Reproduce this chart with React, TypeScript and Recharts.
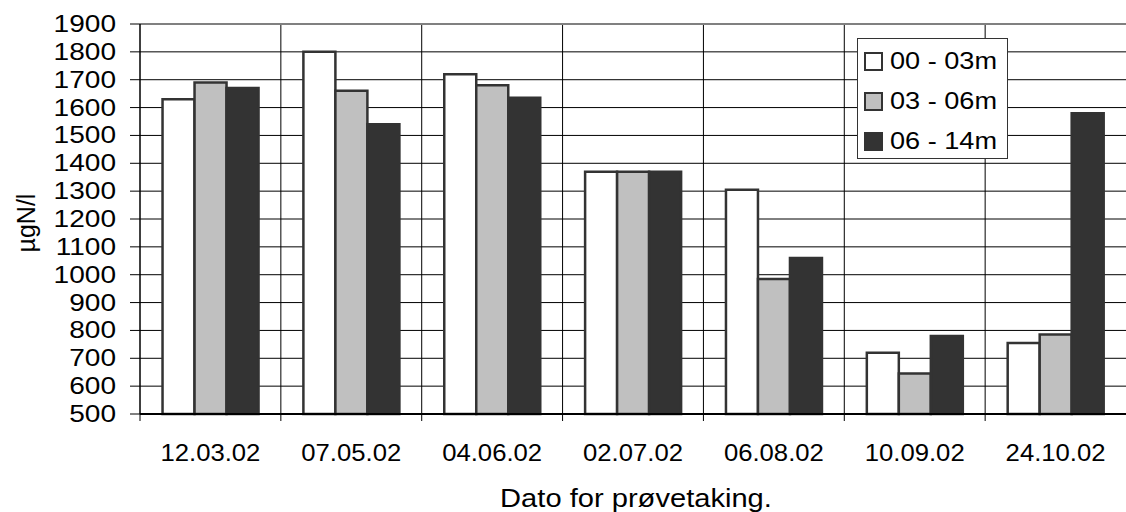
import React from "react";
import {
  BarChart,
  Bar,
  XAxis,
  YAxis,
  CartesianGrid,
  Legend,
  ReferenceLine,
} from "recharts";

const dates = [
  "12.03.02",
  "07.05.02",
  "04.06.02",
  "02.07.02",
  "06.08.02",
  "10.09.02",
  "24.10.02",
];
const depth0to3 = [1630, 1800, 1720, 1370, 1305, 720, 755];
const depth3to6 = [1690, 1660, 1680, 1370, 985, 645, 785];
const depth6to14 = [1670, 1540, 1635, 1370, 1060, 780, 1580];
const yTicks = [
  500, 600, 700, 800, 900, 1000, 1100, 1200, 1300, 1400, 1500, 1600, 1700,
  1800, 1900,
];

const data = dates.map((date, i) => ({
  date,
  a: depth0to3[i],
  b: depth3to6[i],
  c: depth6to14[i],
}));

const FONT = "'Liberation Sans', Arial, sans-serif";
const X_TICK_SIZE = 7;
const X_TICK_MARGIN = 23;

const YTick = ({ x, y, payload }: any) => (
  <g transform={`translate(${x},${y})`}>
    <text
      transform="scale(1.22,1)"
      textAnchor="end"
      dominantBaseline="central"
      fontSize={23}
      fontFamily={FONT}
      fill="#000"
    >
      {payload.value}
    </text>
  </g>
);

const XTick = ({ x, y, payload }: any) => {
  const half = payload.offset ?? 0;
  const axisY = y - X_TICK_SIZE - X_TICK_MARGIN;
  return (
    <g>
      <line
        x1={x - half}
        x2={x - half}
        y1={axisY}
        y2={axisY + X_TICK_SIZE}
        stroke="#000"
      />
      <g transform={`translate(${x},${y})`}>
        <text
          transform="scale(1.07,1)"
          textAnchor="middle"
          dy="0.71em"
          fontSize={24}
          fontFamily={FONT}
          fill="#000"
        >
          {payload.value}
        </text>
      </g>
    </g>
  );
};

const legendStroke = "#333";

const LegendBox = ({ payload }: any) => (
  <div
    style={{
      border: "1px solid #333",
      background: "#fff",
      boxSizing: "border-box",
      width: 151,
      height: 121,
      paddingTop: 2,
      fontFamily: FONT,
    }}
  >
    {(payload || []).map((entry: any) => (
      <div
        key={entry.value}
        style={{ height: 40, display: "flex", alignItems: "center" }}
      >
        <span
          style={{
            display: "inline-block",
            width: 19,
            height: 19,
            marginLeft: 6,
            marginRight: 7,
            boxSizing: "border-box",
            border: `2.5px solid ${legendStroke}`,
            background: entry.color,
          }}
        />
        <span
          style={{
            display: "inline-block",
            fontSize: 24,
            color: "#000",
            transform: "scaleX(1.13)",
            transformOrigin: "left center",
            whiteSpace: "nowrap",
          }}
        >
          {entry.value}
        </span>
      </div>
    ))}
  </div>
);

const YLabel = ({ viewBox }: any) => {
  const cy = viewBox.y + viewBox.height / 2 + 4;
  return (
    <text
      x={26}
      y={cy}
      transform={`rotate(-90, 26, ${cy})`}
      textAnchor="middle"
      dominantBaseline="central"
      fontSize={25}
      fontFamily={FONT}
      fill="#000"
    >
      µgN/l
    </text>
  );
};

const XLabel = ({ viewBox }: any) => {
  const cx = viewBox.x + viewBox.width / 2 + 3;
  const by = viewBox.y + 93;
  return (
    <g transform={`translate(${cx},${by})`}>
      <text
        transform="scale(1.12,1)"
        textAnchor="middle"
        fontSize={26}
        fontFamily={FONT}
        fill="#000"
      >
        Dato for prøvetaking.
      </text>
    </g>
  );
};

export default function App() {
  return (
    <div style={{ position: "absolute", left: 0, top: 0 }}>
      <BarChart
        width={1126}
        height={512}
        data={data}
        margin={{ top: 24, right: 0, bottom: 0, left: 0 }}
        barCategoryGap="16%"
        barGap={0}
      >
        <CartesianGrid
          stroke="#000"
          strokeWidth={1}
          verticalCoordinatesGenerator={({ offset }: any) =>
            dates
              .slice(1)
              .map((_, i) => offset.left + ((i + 1) * offset.width) / dates.length)
          }
        />
        <XAxis
          dataKey="date"
          height={98}
          tickLine={false}
          tickSize={X_TICK_SIZE}
          tickMargin={X_TICK_MARGIN}
          interval={0}
          axisLine={{ stroke: "#000", strokeWidth: 2 }}
          tick={<XTick />}
          label={<XLabel />}
        />
        <YAxis
          width={140}
          domain={[500, 1900]}
          ticks={yTicks}
          interval={0}
          tickSize={10}
          tickMargin={14}
          tickLine={{ stroke: "#000" }}
          axisLine={{ stroke: "#000", strokeWidth: 1.5 }}
          tick={<YTick />}
          label={<YLabel />}
        />
        <ReferenceLine y={1900} stroke="#808080" strokeWidth={2} />
        <Legend
          layout="vertical"
          align="center"
          verticalAlign="middle"
          wrapperStyle={{ left: 857, top: 38, width: 151, height: 121 }}
          content={<LegendBox />}
        />
        <Bar
          dataKey="a"
          name="00 - 03m"
          fill="#ffffff"
          stroke="#333"
          strokeWidth={2.5}
          isAnimationActive={false}
        />
        <Bar
          dataKey="b"
          name="03 - 06m"
          fill="#c0c0c0"
          stroke="#333"
          strokeWidth={2.5}
          isAnimationActive={false}
        />
        <Bar
          dataKey="c"
          name="06 - 14m"
          fill="#333333"
          stroke="#333"
          strokeWidth={2.5}
          isAnimationActive={false}
        />
      </BarChart>
    </div>
  );
}
